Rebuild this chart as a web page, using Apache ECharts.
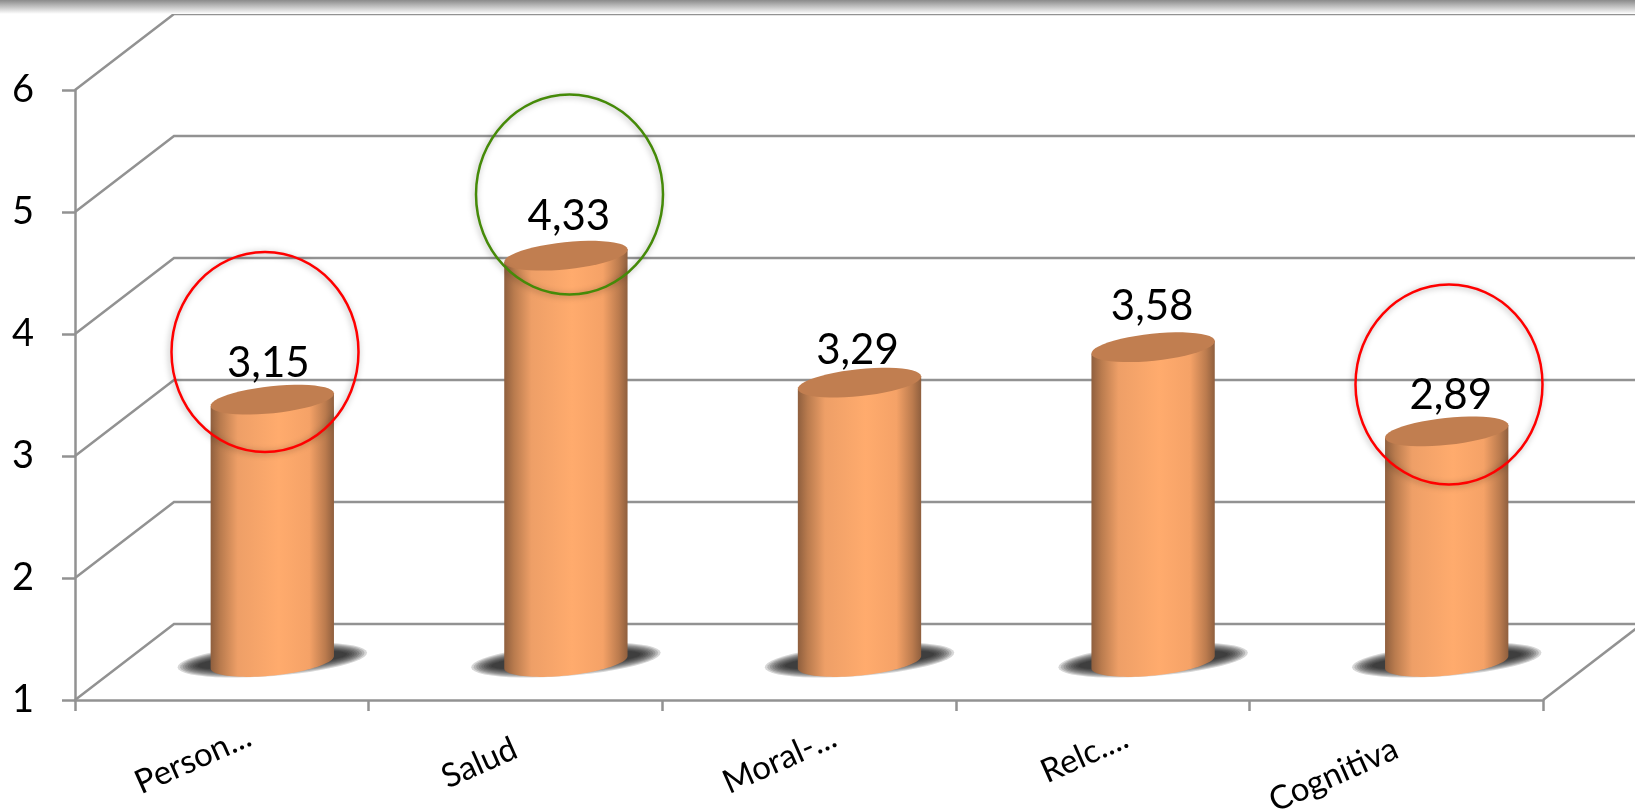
<!DOCTYPE html>
<html>
<head>
<meta charset="utf-8">
<style>html,body{margin:0;padding:0;background:#fff}#chart{width:1635px;height:812px}</style>
<script src="https://cdn.jsdelivr.net/npm/echarts@6/dist/echarts.min.js"></script>
</head>
<body>
<div id="chart"></div>
<script>
var categories = ['Person...', 'Salud', 'Moral-...', 'Relc....', 'Cognitiva'];
var values = [3.15, 4.33, 3.29, 3.58, 2.89];
var yTicks = [1, 2, 3, 4, 5, 6];

// depth of the fake 3d box, in pixels
var depthX = 99, depthY = -76;
var barA = 62, barB = 13.5, barTilt = 6 * Math.PI / 180;
var font = 'Lato';
var lineColor = '#929292';
// hand nudges so the labels land where the original put them
var labelShift = [-30, 0, -28, -26, 0];
var valueNudgeX = [-1, 6, 1, 2, 7];
var valueNudgeY = [2, -1, 6, -3, 2];

function tilted(cx, cy, a, b, t, from, to) {
    var pts = [];
    for (var i = 0; i <= 48; i++) {
        var u = from + (to - from) * i / 48;
        var ex = a * Math.cos(u), ey = b * Math.sin(u);
        pts.push([cx + ex * Math.cos(t) + ey * Math.sin(t), cy - ex * Math.sin(t) + ey * Math.cos(t)]);
    }
    return pts;
}

var bodyFill = new echarts.graphic.LinearGradient(0, 0, 1, 0, [
    {offset: 0, color: '#8f5f3e'},
    {offset: 0.08, color: '#b97b4e'},
    {offset: 0.22, color: '#ee9f67'},
    {offset: 0.55, color: '#ffab6d'},
    {offset: 0.8, color: '#f5a267'},
    {offset: 0.93, color: '#bb7b4e'},
    {offset: 1, color: '#8f5f3e'}
]);

function renderWall(params, api) {
    var v = api.value(0);
    var p = api.coord([0, v]);
    p[0] = params.coordSys.x;
    var children = [{
        type: 'polyline',
        shape: {points: [p, [p[0] + depthX, p[1] + depthY], [1700, p[1] + depthY]]},
        style: {stroke: lineColor, lineWidth: 2.5, fill: null}
    }];
    if (v === yTicks[0]) {
        var r = params.coordSys.x + params.coordSys.width;
        children.push({
            type: 'line',
            shape: {x1: r, y1: p[1], x2: r + depthX, y2: p[1] + depthY},
            style: {stroke: lineColor, lineWidth: 2.5}
        });
    }
    return {type: 'group', children: children};
}

function floorShadow(cx, cy) {
    // stacked see-through ellipses stand in for the soft shadow
    var layers = [];
    for (var i = 0; i < 9; i++) {
        layers.push({
            type: 'polygon',
            shape: {points: tilted(cx, cy, 95 - i * 2.5, 16 - i * 1.1, 4.5 * Math.PI / 180, 0, 2 * Math.PI)},
            style: {fill: 'rgba(20,20,20,0.17)'}
        });
    }
    return layers;
}

function renderBar(params, api) {
    var idx = api.value(0);
    var top = api.coord([idx, api.value(1)]);
    var base = api.coord([idx, yTicks[0]]);
    var cx = top[0] + depthX / 2 + 1, topY = top[1] + depthY / 2, baseY = base[1] + depthY / 2;
    var topPts = tilted(cx, topY, barA, barB, barTilt, Math.PI, 2 * Math.PI);
    var basePts = tilted(cx, baseY, barA, barB, barTilt, Math.PI, 0);
    return {
        type: 'group',
        children: floorShadow(cx, baseY - 2).concat([{
            type: 'polygon',
            shape: {points: [topPts[0]].concat(basePts, [topPts[48]])},
            style: {fill: bodyFill}
        }, {
            type: 'polygon',
            shape: {points: tilted(cx, topY, barA, barB, barTilt, 0, 2 * Math.PI)},
            style: {fill: '#c17e50'}
        }, {
            type: 'text',
            style: {
                x: cx - 3 + valueNudgeX[idx], y: topY - 38 + valueNudgeY[idx],
                text: String(api.value(1)).replace('.', ','),
                font: '42px ' + font, fill: '#000',
                align: 'center', verticalAlign: 'middle'
            }
        }])
    };
}

function ring(cx, cy, color) {
    return {
        type: 'ellipse', z: 100,
        shape: {cx: cx, cy: cy, rx: 93.5, ry: 100},
        style: {fill: null, stroke: color, lineWidth: 2.5, shadowBlur: 6, shadowColor: 'rgba(0,0,0,0.35)', shadowOffsetX: -1, shadowOffsetY: 1}
    };
}

var chart = echarts.init(document.getElementById('chart'), null, {renderer: 'canvas'});
chart.setOption({
    animation: false,
    backgroundColor: '#fff',
    grid: {left: 75, right: 92, top: 90, bottom: 112, containLabel: false, outerBoundsMode: 'none'},
    xAxis: {
        type: 'category',
        data: categories.map(function (c, i) {
            return {value: c, textStyle: {padding: [0, labelShift[i], 0, 0]}};
        }),
        boundaryGap: true,
        axisLine: {show: true, lineStyle: {color: lineColor, width: 2.5}},
        axisTick: {show: true, length: 11, alignWithLabel: false, lineStyle: {color: lineColor, width: 2.5}},
        axisLabel: {interval: 0, rotate: 24, margin: 47, fontFamily: font, fontSize: 33, color: '#000'}
    },
    yAxis: {
        type: 'value', min: 1, max: 6, interval: 1,
        splitLine: {show: false},
        axisLine: {show: true, lineStyle: {color: lineColor, width: 2.5}},
        axisTick: {show: true, length: 13, lineStyle: {color: lineColor, width: 2.5}},
        axisLabel: {margin: 41, padding: [10, 0, 0, 0], fontFamily: font, fontSize: 38, color: '#000'}
    },
    graphic: [{
        type: 'rect', z: 90,
        shape: {x: 0, y: 0, width: 1635, height: 14},
        style: {fill: new echarts.graphic.LinearGradient(0, 0, 0, 1, [
            {offset: 0, color: '#8a8a8a'},
            {offset: 0.5, color: '#c4c4c4'},
            {offset: 1, color: '#ffffff'}
        ])}
    },
        ring(265, 352, '#ff0000'),
        ring(569.5, 194.5, '#458a08'),
        ring(1449, 384.5, '#ff0000')
    ],
    series: [{
        type: 'custom', z: 1, clip: false,
        renderItem: renderWall,
        data: yTicks.map(function (t) { return [t]; }),
        encode: {y: 0},
        silent: true
    }, {
        type: 'custom', z: 3, clip: false,
        renderItem: renderBar,
        data: values.map(function (v, i) { return [i, v]; }),
        encode: {x: 0, y: 1},
        silent: true
    }]
});
</script>
</body>
</html>
